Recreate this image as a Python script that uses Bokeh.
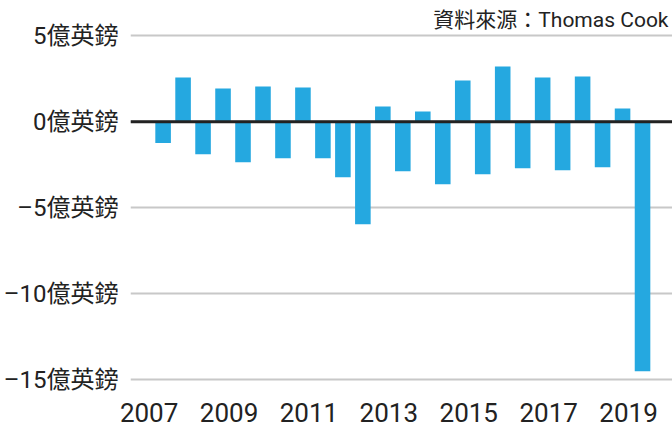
from bokeh.plotting import figure
from bokeh.models import ColumnDataSource, FixedTicker, Span, Label, Range1d
from bokeh.embed import file_html
from bokeh.resources import INLINE

# Half-year results (FY H1 / H2), in 億英鎊 (£100m)
years = [2007, 2007, 2008, 2008, 2009, 2009, 2010, 2010, 2011, 2011, 2012, 2012,
         2013, 2013, 2014, 2014, 2015, 2015, 2016, 2016, 2017, 2017, 2018, 2018, 2019]
halves = ["H1", "H2"] * 12 + ["H1"]
values = [-1.24, 2.58, -1.88, 1.94, -2.35, 2.05, -2.12, 1.99, -2.12, -3.22, -5.95, 0.89,
          -2.87, 0.60, -3.63, 2.40, -3.05, 3.22, -2.70, 2.58, -2.81, 2.63, -2.64, 0.77, -14.5]

y_ticks = [5, 0, -5, -10, -15]
y_tick_labels = ["5億英鎊", "0億英鎊", "–5億英鎊", "–10億英鎊", "–15億英鎊"]
x_ticks = [2007, 2009, 2011, 2013, 2015, 2017, 2019]
x_tick_labels = ["2007", "2009", "2011", "2013", "2015", "2017", "2019"]
source_text = "資料來源：Thomas Cook"

FONT = "'Liberation Sans Narrow', Roboto, 'Noto Sans CJK TC', sans-serif"
BAR = "#25A8E0"

xpos = [y + (0.35 if h == "H1" else 0.85) for y, h in zip(years, halves)]
src = ColumnDataSource(dict(x=xpos, top=values, year=years, half=halves))

p = figure(width=672, height=430, output_backend="svg", toolbar_location=None,
           x_range=Range1d(2006.534, 2020.10), y_range=Range1d(-15.506, 7.052),
           min_border_left=128, min_border_right=0, min_border_top=0, min_border_bottom=42)
p.outline_line_color = None
p.background_fill_color = "white"
p.border_fill_color = "white"

p.vbar(x="x", top="top", bottom=0, width=0.39, source=src, fill_color=BAR, line_color=None)

p.add_layout(Span(location=0, dimension="width", line_color="#222222", line_width=3, level="overlay"))

p.xgrid.visible = False
p.ygrid.ticker = FixedTicker(ticks=y_ticks)
p.ygrid.grid_line_color = "#c8c8c8"
p.ygrid.grid_line_width = 2

p.yaxis.ticker = FixedTicker(ticks=y_ticks)
p.yaxis.major_label_overrides = {t: l for t, l in zip(y_ticks, y_tick_labels)}
p.yaxis.axis_line_color = None
p.yaxis.major_tick_line_color = None
p.yaxis.minor_tick_line_color = None
p.yaxis.major_label_text_font = FONT
p.yaxis.major_label_text_font_size = "24px"
p.yaxis.major_label_text_color = "#222222"
p.yaxis.major_label_standoff = 6

p.xaxis.ticker = FixedTicker(ticks=x_ticks)
p.xaxis.major_label_overrides = {t: l for t, l in zip(x_ticks, x_tick_labels)}
p.xaxis.axis_line_color = None
p.xaxis.major_tick_line_color = None
p.xaxis.minor_tick_line_color = None
p.xaxis.major_label_text_font = FONT
p.xaxis.major_label_text_font_size = "26px"
p.xaxis.major_label_text_color = "#222222"
p.xaxis.major_label_standoff = 8

p.add_layout(Label(x=2020.0, y=5.89, text=source_text, text_align="right",
                   text_baseline="middle", text_font=FONT, text_font_size="21px",
                   text_color="#222222"))

open("out.html", "w").write(file_html(p, INLINE))
